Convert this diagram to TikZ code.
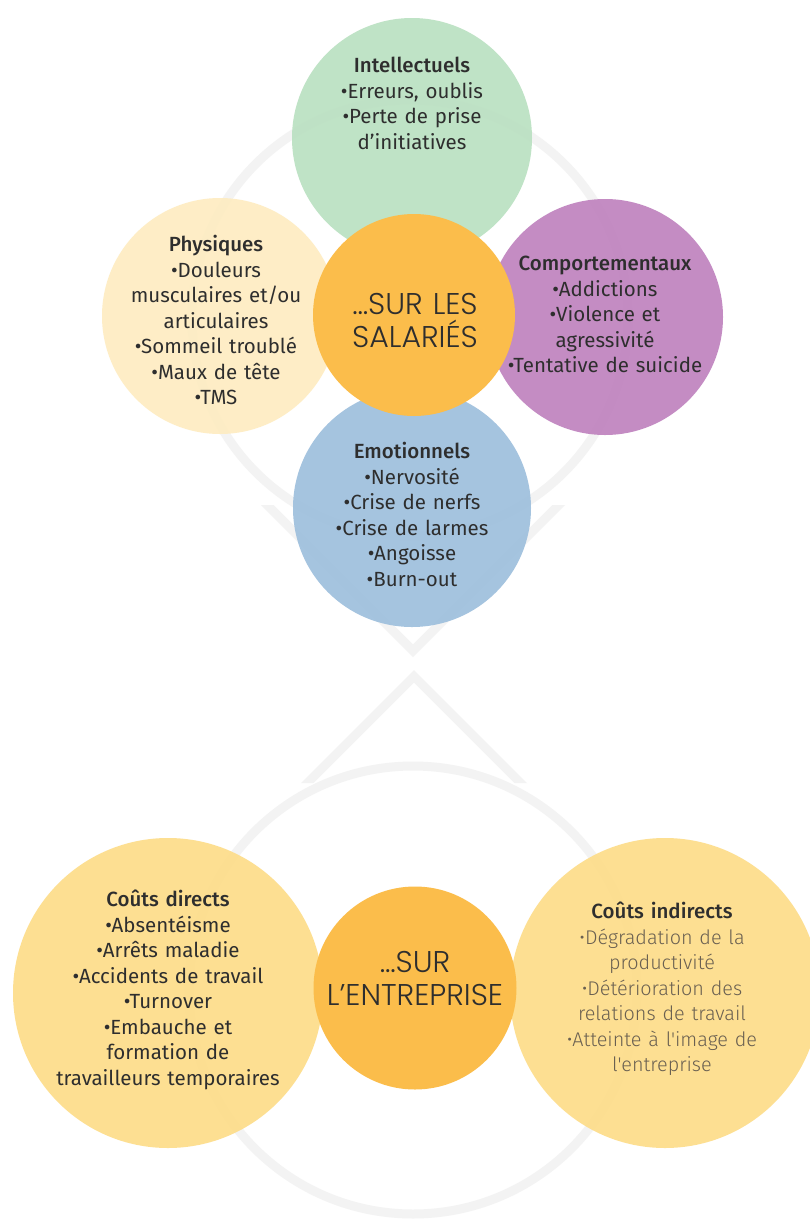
\documentclass[tikz,border=0pt]{standalone}
\usepackage{fontspec}
\setmainfont{Fira Sans}
\newfontfamily\hdrfont{Fira Sans Medium}
\newfontfamily\lightfont{Fira Sans Light}
\newfontfamily\titlefont{Poppins Light}
\definecolor{cgreen}{RGB}{185,224,192}
\definecolor{cpurple}{RGB}{190,128,189}
\definecolor{cphys}{RGB}{254,236,192}
\definecolor{cblue}{RGB}{156,190,220}
\definecolor{cyell}{RGB}{253,220,135}
\definecolor{corange}{RGB}{251,189,75}
\definecolor{cband}{RGB}{243,243,243}
\definecolor{ctext}{RGB}{46,46,46}
\definecolor{clight}{RGB}{106,96,81}
\begin{document}
\begin{tikzpicture}[x=1pt,y=-1pt,
  bubble/.style={circle, inner sep=0pt, minimum size=#1, fill opacity=0.9},
  core/.style={circle, inner sep=0pt, minimum size=#1, fill=corange},
  band/.style={draw=cband, line width=9pt},
  bandfill/.style={fill=cband},
  txt/.style={align=center, text width=300pt, inner sep=0pt, text=ctext,
    font=\fontsize{20.5}{25.5}\selectfont, anchor=base},
  ctitle/.style={align=center, text width=260pt, inner sep=0pt, text=ctext,
    font=\titlefont\fontsize{30}{33.5}\selectfont, anchor=base}]
\useasboundingbox (0,0) rectangle (810,1219);
\clip (0,0) rectangle (810,1219);
\fill[white] (0,0) rectangle (810,1219);
% background faint shapes
\draw[band] (410,318) circle[radius=218];
\fill[bandfill] (261,505) -- (413,657) -- (565,505) -- (552.3,505) -- (413,644.3) -- (273.7,505) -- cycle;
\fill[bandfill] (301,783) -- (414,670) -- (527,783) -- (514.3,783) -- (414,682.7) -- (313.7,783) -- cycle;
\draw[band] (413,990) circle[radius=224];
% top cluster
\node[bubble=240pt, fill=cgreen] (intel) at (412,138) {};
\node[bubble=236pt, fill=cphys] (phys) at (220,316) {};
\node[bubble=236pt, fill=cpurple] (comp) at (605,317) {};
\node[bubble=238pt, fill=cblue] (emo) at (412,508) {};
\node[core=202pt] (sal) at (414,315) {};
\node[txt] (intelT) at (412,72.5) {{\hdrfont Intellectuels}\\•Erreurs, oublis\\•Perte de prise\\d’initiatives};
\node[txt] (physT) at (216,251.5) {{\hdrfont Physiques}\\•Douleurs\\musculaires et/ou\\articulaires\\•Sommeil troublé\\•Maux de tête\\•TMS};
\node[txt] (compT) at (605,270.5) {{\hdrfont Comportementaux}\\•Addictions\\•Violence et\\agressivité\\•Tentative de suicide};
\node[txt] (emoT) at (412,458.5) {{\hdrfont Emotionnels}\\•Nervosité\\•Crise de nerfs\\•Crise de larmes\\•Angoisse\\•Burn-out};
\node[ctitle] (salT) at (415,314) {…SUR LES\\SALARIÉS};
% bottom cluster
\node[bubble=310pt, fill=cyell] (direct) at (168,993) {};
\node[bubble=310pt, fill=cyell] (indirect) at (665,993) {};
\node[core=203pt] (ent) at (415,988) {};
\node[txt] (directT) at (168,906.5) {{\hdrfont Coûts directs}\\•Absentéisme\\•Arrêts maladie\\•Accidents de travail\\•Turnover\\•Embauche et\\formation de\\travailleurs temporaires};
\node[txt] (indirectT) at (662,918.5) {{\hdrfont Coûts indirects}\\{\lightfont\fontsize{19.8}{25.5}\selectfont\color{clight}•Dégradation de la\\productivité\\•Détérioration des\\relations de travail\\•Atteinte à l'image de\\l'entreprise}};
\node[ctitle] (entT) at (415,972) {…SUR\\L’ENTREPRISE};
\end{tikzpicture}
\end{document}
